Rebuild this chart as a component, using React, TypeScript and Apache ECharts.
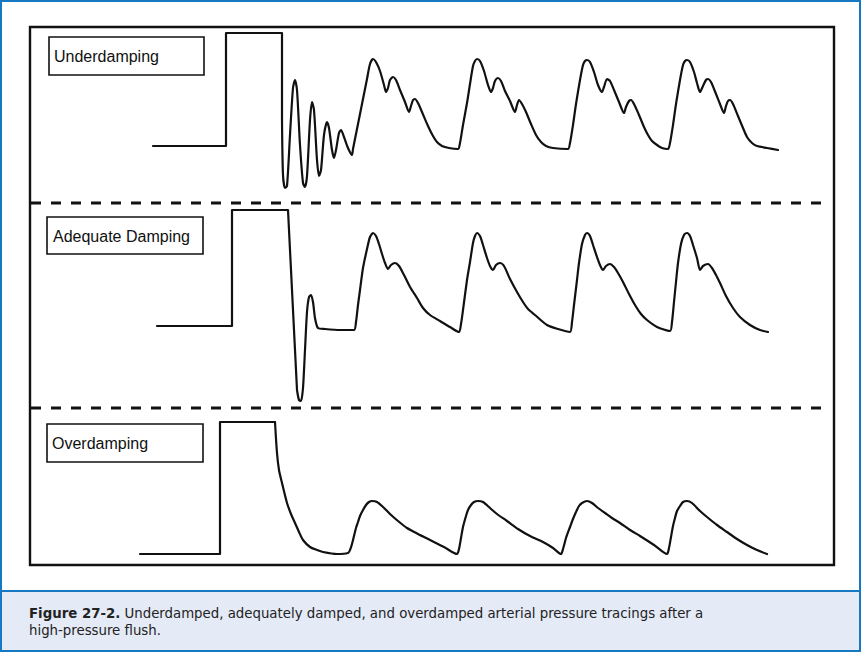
import { useEffect, useRef } from "react";
import * as echarts from "echarts";

// Time (x) vs. trace level (y) readings, per panel
const underFlush = [[153, 146], [226, 146], [226, 33], [282, 33], [282, 120]];
const underTrace = [
  [282, 120], [283, 175], [285, 188], [287, 186], [290, 135], [293, 88], [295, 80], [297, 90], [300, 145], [303, 183], [305, 187], [307, 176],
  [310, 120], [312, 102], [314, 110], [317, 160], [319, 176], [321, 170], [324, 135], [327, 122], [329, 128], [332, 150], [334, 158], [336, 150],
  [339, 133], [341, 130], [344, 137], [348, 148], [352, 155], [353, 149],
  [356, 134], [360, 114], [364, 94], [367, 79], [370, 64], [373, 59], [376, 62], [380, 71], [384, 85], [386, 92], [388, 88], [390, 80], [393, 77],
  [396, 80], [400, 90], [405, 102], [409, 112], [411, 106], [413, 100], [415, 99], [418, 103], [422, 112], [428, 126], [433, 136], [437, 142],
  [442, 146], [449, 148], [458, 149], [460, 143],
  [463, 125], [467, 103], [470, 84], [473, 66], [475, 61], [477, 59], [480, 61], [484, 71], [488, 85], [491, 92], [493, 88], [495, 81], [498, 78],
  [501, 81], [505, 91], [510, 101], [515, 112], [517, 105], [519, 100], [522, 104], [526, 112], [531, 124], [536, 135], [541, 142], [546, 146],
  [553, 148], [568, 149], [570, 143],
  [573, 125], [576, 104], [580, 80], [583, 65], [585, 61], [587, 60], [590, 62], [594, 72], [598, 85], [602, 92], [604, 87], [607, 79], [610, 81],
  [614, 90], [619, 102], [624, 113], [626, 107], [629, 101], [631, 100], [634, 104], [639, 115], [644, 127], [648, 135], [652, 141], [657, 145],
  [662, 148], [668, 149], [670, 143],
  [673, 125], [676, 104], [680, 80], [683, 65], [685, 61], [687, 60], [690, 62], [694, 72], [697, 83], [700, 92], [703, 86], [706, 80], [708, 79],
  [711, 82], [716, 94], [720, 104], [724, 113], [726, 106], [728, 101], [730, 100], [733, 104], [738, 116], [743, 128], [747, 137], [752, 143],
  [757, 146], [767, 148], [778, 150],
];

const adequateFlush = [[157, 326], [232, 326], [232, 210], [288, 210], [297, 390]];
const adequateTrace = [
  [297, 390], [299, 400], [301, 401], [303, 388], [305, 350], [307, 312], [309, 297], [311, 295], [313, 302], [315, 318], [318, 328], [325, 329],
  [340, 330], [354, 330], [356, 322],
  [358, 305], [360, 290], [363, 268], [367, 249], [370, 237], [373, 233], [376, 236], [379, 244], [382, 254], [385, 263], [388, 269], [391, 265],
  [395, 263], [399, 266], [404, 275], [410, 287], [417, 298], [423, 308], [430, 315], [440, 321], [450, 327], [459, 332], [461, 324],
  [463, 310], [467, 280], [470, 262], [473, 243], [475, 236], [477, 233], [480, 236], [483, 245], [487, 258], [490, 266], [493, 270], [496, 265],
  [500, 263], [504, 266], [510, 279], [517, 292], [523, 302], [528, 309], [535, 315], [547, 325], [558, 329], [570, 332], [572, 322],
  [574, 305], [577, 280], [579, 263], [582, 244], [585, 235], [587, 233], [590, 236], [593, 245], [597, 257], [600, 265], [603, 270], [606, 266],
  [610, 264], [614, 267], [618, 273], [623, 282], [629, 294], [635, 305], [641, 314], [647, 320], [657, 327], [670, 331], [672, 322],
  [674, 302], [676, 282], [678, 263], [681, 244], [684, 235], [687, 233], [690, 236], [693, 245], [697, 258], [700, 270], [703, 266], [708, 264],
  [712, 268], [716, 275], [720, 283], [726, 296], [733, 308], [740, 317], [750, 325], [760, 330], [768, 332],
];

const overFlush = [[140, 554], [220, 554], [220, 422], [275, 422]];
const overTrace = [
  [275, 422], [277, 453], [279, 470], [282, 483], [287, 503], [291, 514], [295, 523], [299, 532], [303, 540], [310, 547], [317, 550], [323, 552],
  [337, 554], [348, 553], [350, 550],
  [352, 544], [354, 536], [356, 528], [358, 522], [360, 516], [363, 510], [366, 505], [369, 502], [372, 501], [377, 502], [383, 507], [390, 514],
  [398, 521], [407, 528], [418, 534], [430, 540], [444, 547], [457, 554], [459, 549],
  [461, 538], [463, 527], [466, 516], [468, 510], [471, 505], [474, 502], [478, 501], [483, 502], [490, 508], [497, 514], [507, 521], [518, 529],
  [530, 536], [543, 542], [553, 548], [561, 554], [563, 549],
  [566, 538], [570, 527], [573, 519], [576, 512], [579, 506], [582, 503], [587, 501], [592, 503], [598, 508], [605, 513], [612, 518], [620, 523],
  [630, 530], [640, 536], [654, 545], [667, 554], [669, 548],
  [671, 537], [673, 526], [675, 518], [677, 511], [680, 506], [683, 502], [687, 501], [692, 503], [700, 511], [707, 517], [717, 525], [727, 532],
  [737, 539], [747, 545], [757, 550], [767, 554],
];

const panelLabels = ["Underdamping", "Adequate Damping", "Overdamping"];
const captionBold = "Figure 27-2.";
const captionLine1 = " Underdamped, adequately damped, and overdamped arterial pressure tracings after a";
const captionLine2 = "high-pressure flush.";

const INK = "#111";
const BLUE = "#1677c2";
const CAPTION_FONT = "'Liberation Sans Narrow', 'DejaVu Sans Condensed', 'Roboto', sans-serif";

export default function App() {
  const ref = useRef<HTMLDivElement>(null);
  useEffect(() => {
    const chart = echarts.init(ref.current!, null, { renderer: "svg" });
    const panels = [
      { top: 27, bottom: 203 },
      { top: 203, bottom: 408 },
      { top: 408, bottom: 565 },
    ];
    const lineStyle = { color: INK, width: 2.2, cap: "round", join: "round" };
    const mk = (data: number[][], idx: number, smooth: number | boolean) => ({
      type: "line",
      data,
      xAxisIndex: idx,
      yAxisIndex: idx,
      showSymbol: false,
      symbol: "none",
      smooth,
      clip: false,
      lineStyle,
      silent: true,
    });
    const labelBoxes = [
      { x: 49, y: 37, w: 155, h: 38, tx: 54, ty: 56 },
      { x: 47, y: 217, w: 156, h: 37, tx: 53, ty: 236 },
      { x: 47, y: 424, w: 156, h: 38, tx: 52, ty: 443 },
    ];
    const graphics: any[] = [
      { type: "rect", shape: { x: 1, y: 1, width: 859, height: 650 }, style: { fill: "none", stroke: BLUE, lineWidth: 2 }, z: 10 },
      { type: "rect", shape: { x: 1, y: 591, width: 859, height: 60 }, style: { fill: "#e4eaf6", stroke: BLUE, lineWidth: 2 }, z: 9 },
      { type: "rect", shape: { x: 30, y: 27, width: 804, height: 538 }, style: { fill: "none", stroke: INK, lineWidth: 2.4 }, z: 5 },
      { type: "line", shape: { x1: 31, y1: 203, x2: 822, y2: 203 }, style: { stroke: INK, lineWidth: 3, lineDash: [10, 10] }, z: 5 },
      { type: "line", shape: { x1: 31, y1: 408, x2: 822, y2: 408 }, style: { stroke: INK, lineWidth: 3, lineDash: [10, 10] }, z: 5 },
      {
        type: "text",
        x: 29,
        y: 612,
        style: {
          text: "{b|" + captionBold + "}{n|" + captionLine1 + "}",
          fill: "#222",
          fontSize: 14.8,
          fontFamily: CAPTION_FONT,
          verticalAlign: "middle",
          rich: {
            b: { fontWeight: "bold", fontSize: 14.8, fontFamily: CAPTION_FONT, fill: "#222" },
            n: { fontSize: 14.8, fontFamily: CAPTION_FONT, fill: "#222" },
          },
        },
        z: 11,
      },
      {
        type: "text",
        x: 29,
        y: 629,
        style: {
          text: captionLine2,
          fill: "#222",
          fontSize: 14.8,
          fontFamily: CAPTION_FONT,
          verticalAlign: "middle",
        },
        z: 11,
      },
    ];
    labelBoxes.forEach((b, i) => {
      graphics.push({ type: "rect", shape: { x: b.x, y: b.y, width: b.w, height: b.h }, style: { fill: "#fff", stroke: INK, lineWidth: 1.6 }, z: 6 });
      graphics.push({
        type: "text",
        x: b.tx,
        y: b.ty,
        style: { text: panelLabels[i], fill: INK, fontSize: 16, fontFamily: "'Liberation Sans', Arial, sans-serif", verticalAlign: "middle" },
        z: 7,
      });
    });
    chart.setOption({
      animation: false,
      backgroundColor: "#fff",
      grid: panels.map((p) => ({ left: 0, right: 0, top: p.top, height: p.bottom - p.top })),
      xAxis: panels.map((_, i) => ({ type: "value", gridIndex: i, min: 0, max: 861, show: false })),
      yAxis: panels.map((p, i) => ({ type: "value", gridIndex: i, min: p.top, max: p.bottom, inverse: true, show: false })),
      series: [
        mk(underFlush, 0, false),
        mk(underTrace, 0, 0.25),
        mk(adequateFlush, 1, false),
        mk(adequateTrace, 1, 0.25),
        mk(overFlush, 2, false),
        mk(overTrace, 2, 0.25),
      ],
      graphic: graphics,
    });
    return () => chart.dispose();
  }, []);
  return <div ref={ref} style={{ position: "fixed", left: 0, top: 0, width: 861, height: 652 }} />;
}
